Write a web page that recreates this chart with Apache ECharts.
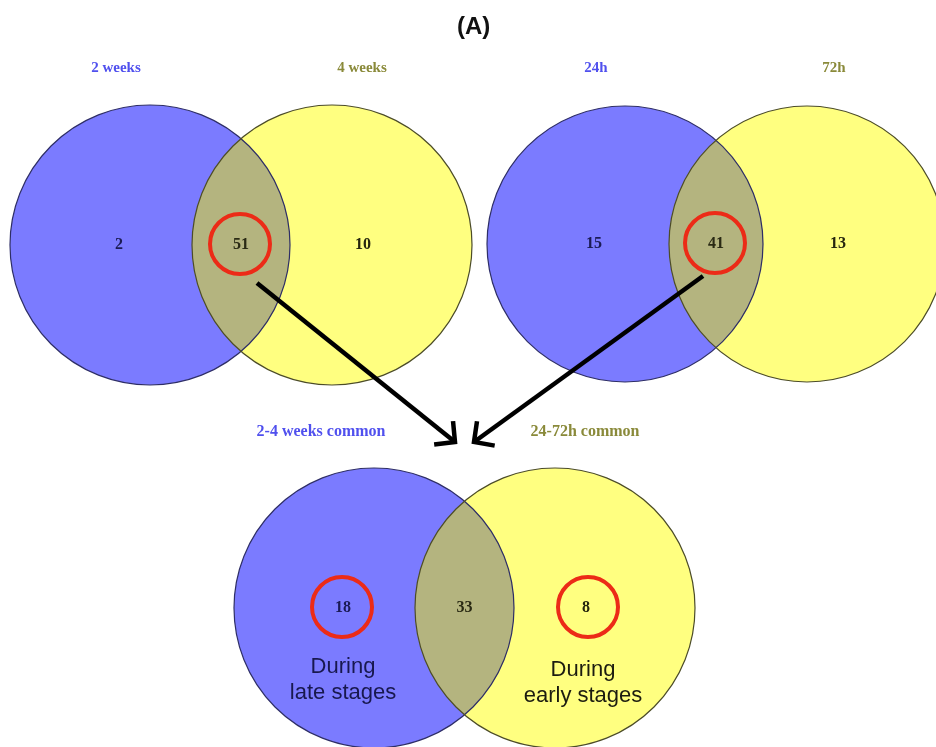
<!DOCTYPE html>
<html>
<head>
<meta charset="utf-8">
<script src="https://cdn.jsdelivr.net/npm/echarts@6/dist/echarts.min.js"></script>
<style>
  html, body { margin: 0; padding: 0; background: #ffffff; }
  #chart { width: 936px; height: 747px; }
</style>
</head>
<body>
<div id="chart"></div>
<script>
// Set names of each pairwise comparison (left set, right set)
const setNames = [
  ['2 weeks', '4 weeks'],
  ['24h', '72h'],
  ['2-4 weeks common', '24-72h common']
];
// Counts per region of each diagram
const leftOnly  = [2, 15, 18];
const shared    = [51, 41, 33];
const rightOnly = [10, 13, 8];
// Which region of each diagram is highlighted with a ring
const ringed = [['shared'], ['shared'], ['left', 'right']];
// Notes printed under the bottom diagram's exclusive regions
const stageNotes = ['During\nlate stages', 'During\nearly stages'];

// Layout in chart units (x: 0..936, y: 0..747, y grows downwards)
const W = 936, H = 747;
const layout = [
  { ax: 150, bx: 332, cy: 245, r: 140, labelY: 68,  nameDx: [-34, 30], nameSize: 15 },
  { ax: 625, bx: 807, cy: 244, r: 138, labelY: 68,  nameDx: [-29, 27], nameSize: 15 },
  { ax: 374, bx: 555, cy: 608, r: 140, labelY: 432, nameDx: [-53, 30], nameSize: 16 }
];
const arrows = [
  { from: [257, 283], to: [455, 442] },
  { from: [703, 276], to: [474, 442] }
];

const BLUE = '#7b7bff', YELLOW = '#ffff80', OVERLAP = '#b4b47f';
const RING = '#ec2b17';
const SERIF = '"Liberation Serif", "Times New Roman", serif';
const NUM_FONT = 'bold 16px ' + SERIF;

function lensPoints(pA, pB, r) {
  const d = pB[0] - pA[0];
  const a = d / 2;
  const h = Math.sqrt(r * r - a * a);
  const cy = pA[1];
  const t = Math.atan2(h, a);
  const pts = [];
  const n = 80;
  // right bulge: arc of the left circle
  for (let k = 0; k <= n; k++) {
    const ang = -t + (2 * t) * k / n;
    pts.push([pA[0] + r * Math.cos(ang), cy + r * Math.sin(ang)]);
  }
  // left bulge: arc of the right circle
  for (let k = 0; k <= n; k++) {
    const ang = Math.PI - t + (2 * t) * k / n;
    pts.push([pB[0] + r * Math.cos(ang), cy + r * Math.sin(ang)]);
  }
  return pts;
}

function text(x, y, str, font, fill, extra) {
  return {
    type: 'text', x: x, y: y,
    style: Object.assign({
      text: str, font: font, fill: fill,
      align: 'center', verticalAlign: 'middle'
    }, extra || {})
  };
}

function ring(p, r) {
  return {
    type: 'circle', shape: { cx: p[0], cy: p[1], r: r },
    style: { fill: null, stroke: RING, lineWidth: 4 }
  };
}

function renderVenn(params, api) {
  const i = params.dataIndex;
  const L = layout[i];
  const pA = api.coord([L.ax, L.cy]);
  const pB = api.coord([L.bx, L.cy]);
  const r = api.size([L.r, 0])[0];
  const off = api.size([31, 0])[0];
  const mid = [(pA[0] + pB[0]) / 2, pA[1]];
  const leftPos = [pA[0] - off, pA[1]];
  const rightPos = [pB[0] + off, pA[1]];
  const ringR = api.size([30, 0])[0];

  const children = [
    { type: 'circle', shape: { cx: pA[0], cy: pA[1], r: r }, style: { fill: BLUE, stroke: null } },
    { type: 'circle', shape: { cx: pB[0], cy: pB[1], r: r }, style: { fill: YELLOW, stroke: null } },
    { type: 'polygon', shape: { points: lensPoints(pA, pB, r) }, style: { fill: OVERLAP, stroke: null } },
    { type: 'circle', shape: { cx: pA[0], cy: pA[1], r: r }, style: { fill: null, stroke: '#2e2e66', lineWidth: 1.2 } },
    { type: 'circle', shape: { cx: pB[0], cy: pB[1], r: r }, style: { fill: null, stroke: '#4c4c28', lineWidth: 1.2 } },
    text(leftPos[0], leftPos[1], String(leftOnly[i]), NUM_FONT, '#1b1b55'),
    text(mid[0], mid[1], String(shared[i]), NUM_FONT, '#2a2a14'),
    text(rightPos[0], rightPos[1], String(rightOnly[i]), NUM_FONT, '#26260e')
  ];

  ringed[i].forEach(function (which) {
    const p = which === 'shared' ? mid : (which === 'left' ? leftPos : rightPos);
    children.push(ring([p[0] + (which === 'right' ? 2 : -1), p[1] - 1], ringR));
  });

  const ly = api.coord([0, L.labelY])[1];
  const nameFont = 'bold ' + L.nameSize + 'px ' + SERIF;
  children.push(text(pA[0] + L.nameDx[0], ly, setNames[i][0], nameFont, '#5050ee'));
  children.push(text(pB[0] + L.nameDx[1], ly, setNames[i][1], nameFont, '#8a8a3a'));

  if (i === 2) {
    const noteFont = '22px "Liberation Sans", Arial, sans-serif';
    children.push(text(leftPos[0], pA[1] + 72, stageNotes[0], noteFont, '#18184e', { lineHeight: 26 }));
    children.push(text(rightPos[0] - 3, pA[1] + 75, stageNotes[1], noteFont, '#1c1c10', { lineHeight: 26 }));
  }
  return { type: 'group', children: children };
}

function renderArrow(params, api) {
  const A = arrows[params.dataIndex];
  const s = api.coord(A.from);
  const t = api.coord(A.to);
  const ang = Math.atan2(t[1] - s[1], t[0] - s[0]) + Math.PI;
  const len = 21, spread = 0.8;
  const h1 = [t[0] + len * Math.cos(ang + spread), t[1] + len * Math.sin(ang + spread)];
  const h2 = [t[0] + len * Math.cos(ang - spread), t[1] + len * Math.sin(ang - spread)];
  const lineStyle = { stroke: '#000000', lineWidth: 4.5, fill: null, lineJoin: 'miter', lineCap: 'butt' };
  return {
    type: 'group',
    children: [
      { type: 'polyline', shape: { points: [s, t] }, style: lineStyle },
      { type: 'polyline', shape: { points: [h1, t, h2] }, style: lineStyle }
    ]
  };
}

const chart = echarts.init(document.getElementById('chart'), null, { renderer: 'canvas' });
chart.setOption({
  backgroundColor: '#ffffff',
  animation: false,
  title: {
    text: '(A)',
    left: 452,
    top: 10,
    textStyle: { fontFamily: '"Liberation Sans", Arial, sans-serif', fontWeight: 'bold', fontSize: 24, color: '#111111' }
  },
  grid: { left: 0, right: 0, top: 0, bottom: 0 },
  xAxis: { type: 'value', min: 0, max: W, show: false },
  yAxis: { type: 'value', min: 0, max: H, inverse: true, show: false },
  series: [
    {
      type: 'custom',
      renderItem: renderVenn,
      data: layout.map(function (L) { return [L.ax, L.cy]; }),
      silent: true,
      z: 2
    },
    {
      type: 'custom',
      renderItem: renderArrow,
      data: arrows.map(function (a) { return a.from; }),
      silent: true,
      z: 3
    }
  ]
});
</script>
</body>
</html>
